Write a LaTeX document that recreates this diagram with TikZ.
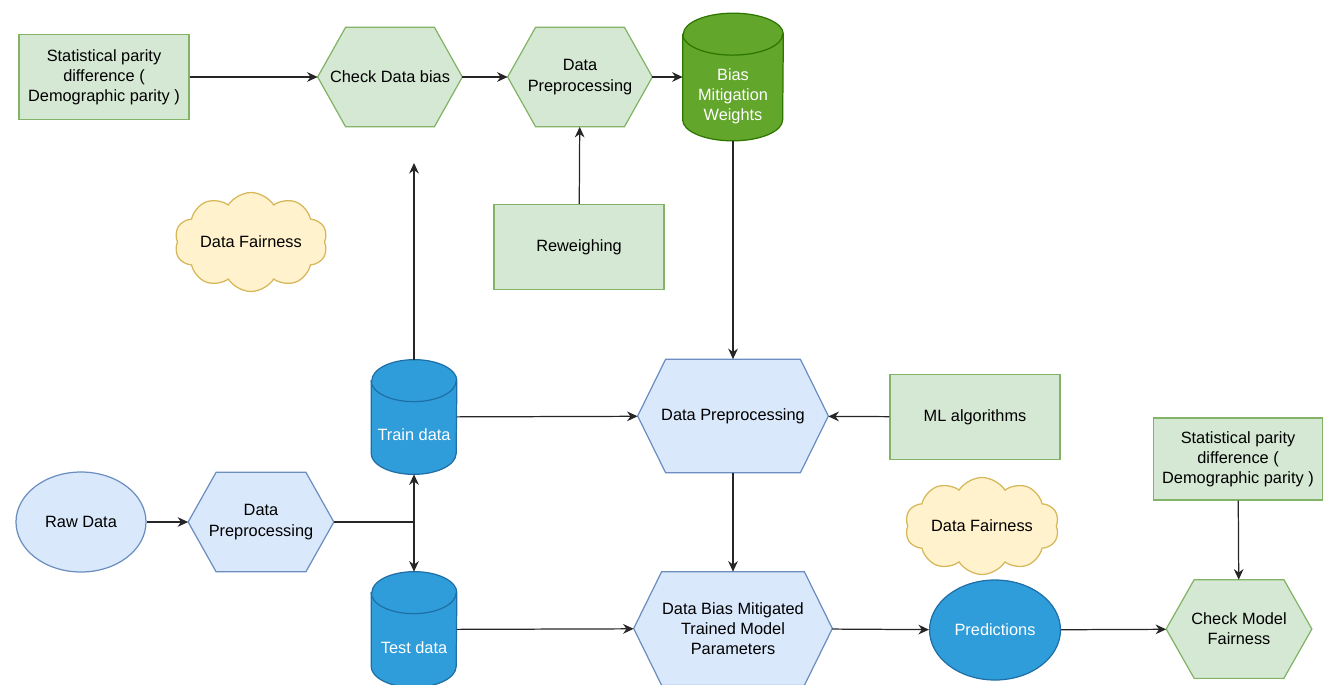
\documentclass[tikz,border=0pt]{standalone}
\usepackage{fontspec}
\setmainfont{Liberation Sans}
\usepackage{xcolor}
\usepackage{tikz}
\usetikzlibrary{shapes,arrows.meta,positioning,calc,backgrounds}

\definecolor{gfill}{HTML}{D5E8D4}
\definecolor{gline}{HTML}{82B366}
\definecolor{bfill}{HTML}{DAE8FC}
\definecolor{bline}{HTML}{6C8EBF}
\definecolor{cylfill}{HTML}{309DDB}
\definecolor{cylline}{HTML}{1F6FA6}
\definecolor{wfill}{HTML}{62A62C}
\definecolor{wline}{HTML}{2D7600}
\definecolor{cfill}{HTML}{FFF2CC}
\definecolor{cline}{HTML}{D6B656}

% hexagon outline round a plain node: node, fill, line
\newcommand{\hexframe}[3]{%
  \draw[fill=#2, draw=#3, line width=0.7pt] (#1.west) -- ($(#1.north west)+(0.56,0)$) -- ($(#1.north east)+(-0.56,0)$)
    -- (#1.east) -- ($(#1.south east)+(-0.56,0)$) -- ($(#1.south west)+(0.56,0)$) -- cycle;}
% cylinder outline round a plain node: node, x radius, y radius, fill, line
\newcommand{\drum}[5]{%
  \draw[fill=#4, draw=#5, line width=0.7pt] ($(#1.north west)+(0,-#3)$) -- ($(#1.south west)+(0,#3)$)
    arc[start angle=180, end angle=360, x radius=#2, y radius=#3] -- ($(#1.north east)+(0,-#3)$)
    arc[start angle=0, end angle=180, x radius=#2, y radius=#3] -- cycle;
  \draw[draw=#5, line width=0.7pt] ($(#1.north west)+(0,-#3)$) arc[start angle=180, end angle=360, x radius=#2, y radius=#3];}

\begin{document}
\begin{tikzpicture}[
    font=\fontsize{9.3}{11.5}\selectfont,
    box/.style={rectangle, draw=gline, fill=gfill, line width=0.7pt, minimum width=3.4cm, minimum height=1.7cm, align=center, inner sep=1pt},
    hexa/.style={rectangle, minimum width=2.88cm, minimum height=1.98cm, align=center, inner sep=0pt},
    store/.style={rectangle, minimum width=1.7cm, minimum height=2.28cm},
    cloudy/.style={cloud, cloud puffs=10, cloud puff arc=115, cloud ignores aspect, draw=cline, fill=cfill, line width=0.7pt, minimum width=3.06cm, minimum height=1.98cm, inner sep=0pt},
    oval/.style={ellipse, line width=0.7pt, minimum width=2.6cm, minimum height=2cm, align=center},
    arrow/.style={-{Stealth[length=6pt,width=5.5pt]}, line width=0.7pt, draw=black!85},
]
\useasboundingbox (0,0) rectangle (26.74,-13.68);

% Top row: check data bias
\node[box] (spdA) at (2.08,-1.54) {Statistical parity\\difference (\\Demographic parity )};
\node[hexa] (chkdata) at (7.8,-1.54) {Check Data bias};
\node[hexa] (prepA) at (11.6,-1.54) {Data\\Preprocessing};
\node[store, minimum width=2cm, minimum height=2.54cm,
      label={[text=white, align=center, yshift=-0.38cm]center:Bias\\Mitigation\\Weights}] (weights) at (14.66,-1.54) {};
\node[box] (rewgh) at (11.58,-4.94) {Reweighing};
\node[cloudy] (cloudA) at (5.02,-4.84) {Data Fairness};

\draw[arrow] (spdA) -- (chkdata);
\draw[arrow] (chkdata) -- (prepA);
\draw[arrow] (prepA) -- (weights);
\draw[arrow] (rewgh) -- (prepA);

% Middle: training
\coordinate (up) at (8.28,-3.26);
\node[store, label={[text=white, yshift=-0.36cm]center:Train data}] (train) at (8.28,-8.34) {};
\node[hexa, minimum width=3.8cm, minimum height=2.26cm] (prepB) at (14.66,-8.32) {Data Preprocessing};
\node[box] (mlalg) at (19.5,-8.34) {ML algorithms};
\node[box, minimum width=3.38cm, minimum height=1.64cm] (spdB) at (24.76,-9.18) {Statistical parity\\difference (\\Demographic parity )};
\node[cloudy, minimum width=3.08cm, minimum height=1.94cm] (cloudB) at (19.64,-10.52) {Data Fairness};

\draw[arrow] (train) -- (up);
\draw[arrow] (weights) -- (prepB);
\draw[arrow] (train) -- (prepB);
\draw[arrow] (mlalg) -- (prepB);

% Bottom row: raw data to predictions
\node[oval, draw=bline, fill=bfill] (raw) at (1.62,-10.44) {Raw Data};
\node[hexa, minimum width=2.9cm] (prepC) at (5.22,-10.44) {Data\\Preprocessing};
\coordinate (split) at (8.28,-10.44);
\node[store, minimum height=2.3cm, label={[text=white, yshift=-0.36cm]center:Test data}] (test) at (8.28,-12.59) {};
\node[hexa, minimum width=3.96cm, minimum height=2.26cm] (dbm) at (14.66,-12.57) {Data Bias Mitigated\\Trained Model\\Parameters};
\node[oval, draw=cylline, fill=cylfill, text=white] (pred) at (19.9,-12.6) {Predictions};
\node[hexa, minimum width=2.9cm, minimum height=1.96cm] (chkmodel) at (24.78,-12.58) {Check Model\\Fairness};

\draw[arrow] (raw) -- (prepC);
\draw[line width=0.7pt, draw=black!85] (prepC) -- (split);
\draw[arrow] (split) -- (train);
\draw[arrow] (split) -- (test);
\draw[arrow] (test) -- (dbm);
\draw[arrow] (prepB) -- (dbm);
\draw[arrow] (dbm) -- (pred);
\draw[arrow] (pred) -- (chkmodel);
\draw[arrow] (spdB) -- (chkmodel);

% Shapes behind the texts
\begin{pgfonlayer}{background}
  \hexframe{chkdata}{gfill}{gline}
  \hexframe{prepA}{gfill}{gline}
  \hexframe{chkmodel}{gfill}{gline}
  \hexframe{prepB}{bfill}{bline}
  \hexframe{prepC}{bfill}{bline}
  \hexframe{dbm}{bfill}{bline}
  \drum{weights}{1cm}{0.42cm}{wfill}{wline}
  \drum{train}{0.85cm}{0.42cm}{cylfill}{cylline}
  \drum{test}{0.85cm}{0.42cm}{cylfill}{cylline}
\end{pgfonlayer}

\end{tikzpicture}
\end{document}
